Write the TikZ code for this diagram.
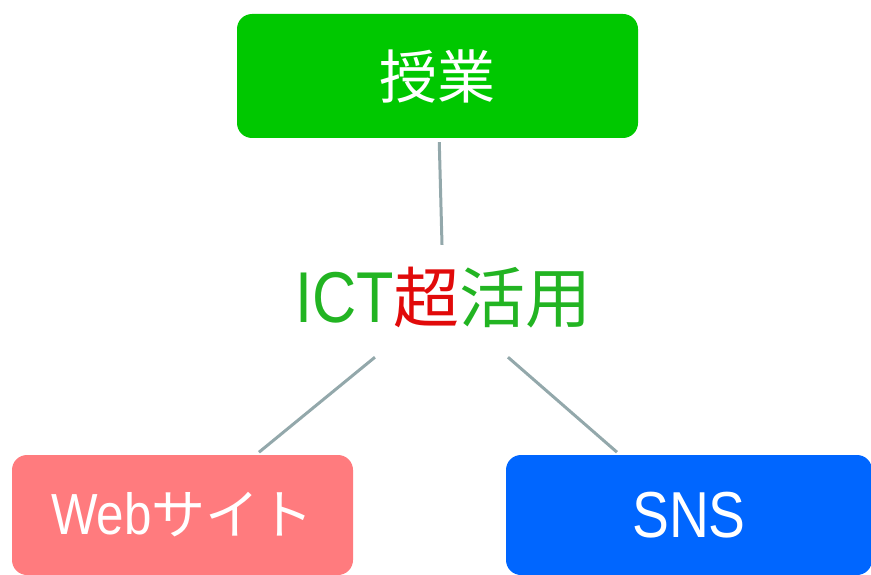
\documentclass[tikz,border=0pt]{standalone}
\usepackage{fontspec}
\setmainfont{Liberation Sans}[FakeStretch=0.85]
\newfontfamily\cjk{Noto Sans CJK JP}
\usepackage{xcolor}
\definecolor{boxgreen}{RGB}{0,200,0}
\definecolor{boxpink}{RGB}{255,123,126}
\definecolor{boxblue}{RGB}{0,102,255}
\definecolor{textgreen}{RGB}{34,180,34}
\definecolor{textred}{RGB}{225,10,10}
\definecolor{linkgray}{RGB}{147,168,171}

\tikzset{
  box/.style={rounded corners=15pt, inner sep=0pt, text=white},
  hub/.style={inner sep=0pt, text height=77pt, text depth=35pt, text=textgreen},
  link/.style={draw=linkgray, line width=3pt},
}

\begin{document}
\begin{tikzpicture}[x=1pt,y=-1pt]
      \useasboundingbox (0,0) rectangle (871,575);

      %write the lesson box on top
      \node[box, fill=boxgreen, minimum width=401pt, minimum height=124pt] (lesson) at (437.5,76)
        {\cjk\fontsize{58}{70}\selectfont 授業};

      %write the word in the middle
      \node[hub, anchor=base] (ict) at (443.5,322)
        {\fontsize{72}{86}\selectfont ICT{\cjk\fontsize{66}{78}\selectfont{\color{textred}超}活用}};

      %write Web, SNS at the bottom
      \node[box, fill=boxpink, minimum width=341pt, minimum height=120pt] (web) at (182.5,515)
        {\fontsize{58}{70}\selectfont Web{\cjk\fontsize{54}{64}\selectfont サイト}};
      \node[box, fill=boxblue, minimum width=366pt, minimum height=120pt] (sns) at (689,515)
        {\fontsize{65}{78}\selectfont SNS};

      % connections
      \draw[link, shorten <=4pt] (lesson) -- (ict);
      \draw[link, shorten >=4pt] (ict) -- (web);
      \draw[link, shorten >=4pt] (ict) -- (sns);
\end{tikzpicture}
\end{document}
